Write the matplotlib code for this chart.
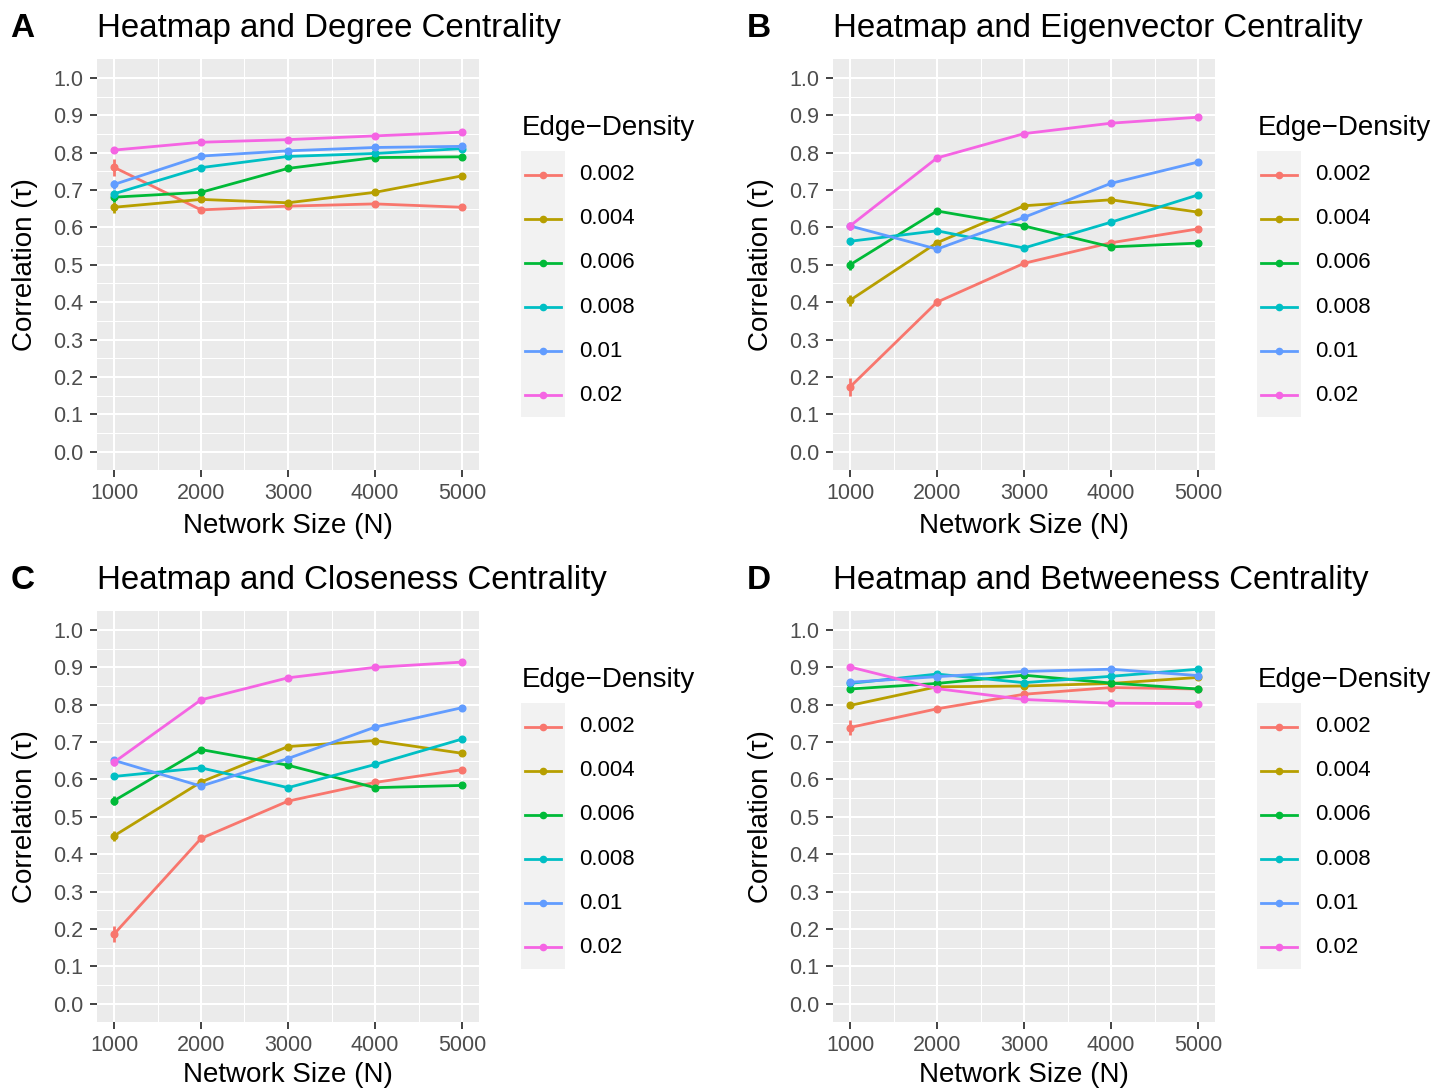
import matplotlib
matplotlib.use('Agg')
import matplotlib.pyplot as plt
from matplotlib.lines import Line2D
from matplotlib.patches import Rectangle
from matplotlib.ticker import FixedLocator

plt.rcParams['font.family'] = ['Liberation Sans', 'DejaVu Sans']

# ---------------- data ----------------
network_sizes = [1000, 2000, 3000, 4000, 5000]
edge_densities = ['0.002', '0.004', '0.006', '0.008', '0.01', '0.02']
colors = ['#F8766D', '#B79F00', '#00BA38', '#00BFC4', '#619CFF', '#F564E3']
x_ticks = [1000, 2000, 3000, 4000, 5000]
x_tick_labels = ['1000', '2000', '3000', '4000', '5000']
y_ticks = [0.0, 0.1, 0.2, 0.3, 0.4, 0.5, 0.6, 0.7, 0.8, 0.9, 1.0]
y_tick_labels = ['0.0', '0.1', '0.2', '0.3', '0.4', '0.5', '0.6', '0.7', '0.8', '0.9', '1.0']

# rows follow edge_densities order
degree_tau = [
    [0.761, 0.647, 0.657, 0.663, 0.654],
    [0.654, 0.675, 0.666, 0.694, 0.738],
    [0.681, 0.694, 0.758, 0.787, 0.789],
    [0.690, 0.760, 0.790, 0.798, 0.811],
    [0.715, 0.791, 0.805, 0.814, 0.817],
    [0.807, 0.828, 0.835, 0.845, 0.855],
]
degree_err = [
    [0.022, 0.006, 0.005, 0.006, 0.005],
    [0.015, 0.005, 0.005, 0.004, 0.004],
    [0.012, 0.006, 0.004, 0.004, 0.003],
    [0.010, 0.004, 0.004, 0.003, 0.003],
    [0.012, 0.004, 0.003, 0.003, 0.003],
    [0.005, 0.003, 0.003, 0.003, 0.003],
]

eigen_tau = [
    [0.173, 0.400, 0.504, 0.559, 0.596],
    [0.405, 0.559, 0.658, 0.674, 0.641],
    [0.500, 0.644, 0.604, 0.548, 0.558],
    [0.563, 0.591, 0.545, 0.614, 0.687],
    [0.604, 0.542, 0.627, 0.718, 0.775],
    [0.604, 0.786, 0.851, 0.879, 0.895],
]
eigen_err = [
    [0.024, 0.011, 0.005, 0.004, 0.004],
    [0.015, 0.006, 0.004, 0.004, 0.004],
    [0.013, 0.005, 0.004, 0.006, 0.004],
    [0.010, 0.005, 0.004, 0.004, 0.004],
    [0.008, 0.006, 0.004, 0.003, 0.003],
    [0.011, 0.004, 0.003, 0.003, 0.003],
]

close_tau = [
    [0.186, 0.442, 0.542, 0.592, 0.626],
    [0.449, 0.593, 0.688, 0.704, 0.670],
    [0.543, 0.680, 0.638, 0.578, 0.584],
    [0.608, 0.631, 0.578, 0.640, 0.708],
    [0.651, 0.582, 0.656, 0.740, 0.792],
    [0.646, 0.813, 0.872, 0.900, 0.914],
]
close_err = [
    [0.022, 0.009, 0.005, 0.004, 0.004],
    [0.013, 0.005, 0.004, 0.004, 0.004],
    [0.012, 0.005, 0.004, 0.005, 0.004],
    [0.008, 0.004, 0.004, 0.004, 0.003],
    [0.010, 0.008, 0.004, 0.003, 0.003],
    [0.010, 0.004, 0.003, 0.003, 0.003],
]

between_tau = [
    [0.739, 0.789, 0.828, 0.846, 0.842],
    [0.798, 0.848, 0.850, 0.857, 0.873],
    [0.842, 0.857, 0.879, 0.858, 0.842],
    [0.857, 0.882, 0.859, 0.876, 0.895],
    [0.860, 0.875, 0.889, 0.895, 0.878],
    [0.901, 0.843, 0.814, 0.804, 0.803],
]
between_err = [
    [0.020, 0.005, 0.004, 0.004, 0.004],
    [0.008, 0.004, 0.003, 0.003, 0.003],
    [0.006, 0.004, 0.003, 0.003, 0.003],
    [0.005, 0.004, 0.003, 0.003, 0.003],
    [0.006, 0.003, 0.003, 0.003, 0.003],
    [0.005, 0.003, 0.003, 0.003, 0.003],
]

panel_letters = ['A', 'B', 'C', 'D']
panel_titles = ['Heatmap and Degree Centrality', 'Heatmap and Eigenvector Centrality',
                'Heatmap and Closeness Centrality', 'Heatmap and Betweeness Centrality']
panel_data = [degree_tau, eigen_tau, close_tau, between_tau]
panel_err = [degree_err, eigen_err, close_err, between_err]
x_label = 'Network Size (N)'
y_label = 'Correlation (\u03c4)'
legend_title = 'Edge\u2212Density'

# ---------------- layout ----------------
W, H = 1451, 1088
fig = plt.figure(figsize=(W / 100, H / 100), dpi=100)
fig.patch.set_facecolor('white')


def fx(px):
    return px / W


def fy(py):
    return 1 - py / H


lefts = [96.6, 832.6, 96.6, 832.6]
tops = [59.3, 59.3, 611.3, 611.3]
xlabel_offsets = [474, 474, 471, 471]
pw, ph = 382.8, 411.0

for k in range(4):
    left, top = lefts[k], tops[k]
    right = left + pw
    ax = fig.add_axes([fx(left), fy(top + ph), pw / W, ph / H])
    ax.set_facecolor('#EBEBEB')
    ax.set_xlim(800, 5200)
    ax.set_ylim(-0.05, 1.05)
    ax.set_xticks(x_ticks)
    ax.set_xticklabels(x_tick_labels)
    ax.set_yticks(y_ticks)
    ax.set_yticklabels(y_tick_labels)
    ax.xaxis.set_minor_locator(FixedLocator([1500, 2500, 3500, 4500]))
    ax.yaxis.set_minor_locator(FixedLocator([0.05 + 0.1 * i for i in range(10)]))
    ax.grid(which='major', color='white', linewidth=1.5)
    ax.grid(which='minor', color='white', linewidth=0.75)
    ax.set_axisbelow(True)
    for s in ax.spines.values():
        s.set_visible(False)
    ax.tick_params(which='major', length=5, width=1.3, color='#333333',
                   labelsize=15.5, labelcolor='#4D4D4D', pad=4.5)
    ax.tick_params(which='minor', length=0)

    for i in range(len(edge_densities)):
        ax.errorbar(network_sizes, panel_data[k][i], yerr=panel_err[k][i],
                    color=colors[i], linewidth=2.0, marker='o', markersize=4.8,
                    capsize=0, elinewidth=2.0, zorder=3 + i)

    # panel letter and title
    fig.text(fx(left - 86), fy(top - 22), panel_letters[k], fontsize=24,
             fontweight='bold', ha='left', va='baseline')
    fig.text(fx(left), fy(top - 22), panel_titles[k], fontsize=23.8,
             ha='left', va='baseline')
    # axis labels
    fig.text(fx(left - 72), fy(top + ph / 2), y_label, fontsize=20,
             rotation=90, ha='center', va='center')
    fig.text(fx(left + pw / 2), fy(top + xlabel_offsets[k]), x_label, fontsize=20,
             ha='center', va='baseline')

    # legend
    fig.text(fx(right + 42.5), fy(top + 75.7), legend_title, fontsize=20,
             ha='left', va='baseline')
    fig.patches.append(Rectangle((fx(right + 41.5), fy(top + 357.5)), 44 / W, 265.5 / H,
                                 transform=fig.transFigure, facecolor='#F2F2F2',
                                 edgecolor='none'))
    for i, lab in enumerate(edge_densities):
        yy = fy(top + 115.5 + 44.1 * i)
        fig.lines.append(Line2D([fx(right + 45.8), fx(right + 81.5)], [yy, yy],
                                transform=fig.transFigure, color=colors[i],
                                linewidth=2.0))
        fig.lines.append(Line2D([fx(right + 63.6)], [yy], transform=fig.transFigure,
                                color=colors[i], marker='o', markersize=4.5,
                                linestyle='none'))
        fig.text(fx(right + 99.6), yy, lab, fontsize=16, ha='left', va='center')

fig.savefig('out.png', dpi=100)
